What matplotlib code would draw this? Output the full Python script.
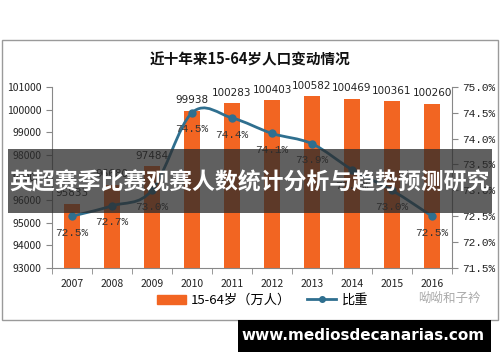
import matplotlib
matplotlib.use("Agg")
import matplotlib.pyplot as plt
from matplotlib.patches import Rectangle, PathPatch
from matplotlib.path import Path
from matplotlib.lines import Line2D
import numpy as np

plt.rcParams["font.family"] = ["Noto Sans CJK SC", "DejaVu Sans"]

years = ["2007", "2008", "2009", "2010", "2011", "2012", "2013", "2014", "2015", "2016"]
population = [95833, 96680, 97484, 99938, 100283, 100403, 100582, 100469, 100361, 100260]
share = [72.5, 72.7, 73.0, 74.5, 74.4, 74.1, 73.9, 73.4, 73.0, 72.5]

BAR = "#f26522"
LINE = "#2f6f8f"

fig = plt.figure(figsize=(5, 3.62), dpi=100)
fig.patch.set_facecolor("white")

# chart frame
fig.add_artist(Rectangle((0.004, 0.116), 0.992, 0.773, transform=fig.transFigure,
                         facecolor="white", edgecolor="#9a9a9a", lw=1, zorder=-1))

ax = fig.add_axes([0.104, 0.26, 0.8, 0.50])
ax.patch.set_alpha(0)
x = np.arange(len(years))
ax.bar(x, population, width=0.4, color=BAR, zorder=2)
for xi, v in zip(x, population):
    ax.annotate(str(v), (xi, v), xytext=(0, 4), textcoords="offset points",
                ha="center", va="bottom", fontsize=7.5, family="DejaVu Sans", color="#222")

ax.set_ylim(93000, 101000)
ax.set_xlim(-0.5, len(years) - 0.5)
ax.set_yticks(range(93000, 101001, 1000))
ax.tick_params(axis="y", labelsize=7.5, length=4, color="#888", labelcolor="#222")
ax.set_xticks(x)
ax.set_xticklabels(years)
ax.set_xticks(np.arange(-0.5, len(years)), minor=True)
ax.tick_params(axis="x", which="major", length=0, labelsize=7.5, pad=8, labelcolor="#222")
ax.tick_params(axis="x", which="minor", length=4, color="#888")
for s in ["top", "right"]:
    ax.spines[s].set_visible(False)
for s in ["left", "bottom"]:
    ax.spines[s].set_color("#888")

ax2 = ax.twinx()
ax2.set_ylim(71.5, 75.0)
ax2.set_yticks(np.arange(71.5, 75.01, 0.5))
ax2.set_yticklabels([f"{t:.1f}%" for t in np.arange(71.5, 75.01, 0.5)],
                    family="Liberation Mono")
ax2.tick_params(axis="y", labelsize=8, length=4, color="#888", labelcolor="#222")
for s in ["top", "left", "bottom"]:
    ax2.spines[s].set_visible(False)
ax2.spines["right"].set_color("#888")

# smoothed line (Catmull-Rom as cubic Bezier through the data points)
pts = np.column_stack([x, share]).astype(float)
verts = [tuple(pts[0])]
codes = [Path.MOVETO]
for i in range(len(pts) - 1):
    p0 = pts[max(i - 1, 0)]
    p1 = pts[i]
    p2 = pts[i + 1]
    p3 = pts[min(i + 2, len(pts) - 1)]
    c1 = p1 + (p2 - p0) / 6
    c2 = p2 - (p3 - p1) / 6
    verts += [tuple(c1), tuple(c2), tuple(p2)]
    codes += [Path.CURVE4] * 3
ax2.add_patch(PathPatch(Path(verts, codes), facecolor="none", edgecolor=LINE, lw=2, zorder=3))
ax2.plot(x, share, "o", color=LINE, ms=5, zorder=4)
for xi, v in zip(x, share):
    ax2.annotate(f"{v:.1f}%", (xi, v), xytext=(0, -12), textcoords="offset points",
                 ha="center", va="center", fontsize=8, family="Liberation Mono", color="#333")

fig.text(0.5, 0.835, "近十年来15-64岁人口变动情况", ha="center", va="center",
         fontsize=10.5, fontweight="bold", color="#111")

# legend
handles = [Rectangle((0, 0), 1, 1, color=BAR),
           Line2D([], [], color=LINE, lw=2, marker="o", ms=4)]
fig.legend(handles, ["15-64岁（万人）", "比重"], loc="center", bbox_to_anchor=(0.525, 0.17),
           ncol=2, frameon=False, fontsize=9.5, handlelength=2.2, handletextpad=0.4,
           columnspacing=1.2)

fig.text(0.836, 0.177, "呦呦和子衿", ha="left", va="center", fontsize=9, color="#aaa")

# banner overlay
fig.add_artist(Rectangle((0.016, 0.412), 0.968, 0.177, transform=fig.transFigure,
                         facecolor="#2b2b2b", alpha=0.75, edgecolor="none", zorder=10))
fig.text(0.5, 0.495, "英超赛季比赛观赛人数统计分析与趋势预测研究", ha="center", va="center",
         fontsize=16.5, fontweight="bold", color="white", zorder=11)

# bottom site box
fig.add_artist(Rectangle((0.476, 0.028), 0.506, 0.088, transform=fig.transFigure,
                         facecolor="black", edgecolor="none", zorder=10))
fig.text(0.726, 0.072, "www.mediosdecanarias.com", ha="center", va="center",
         fontsize=11, fontweight="bold", color="white", family="DejaVu Sans", zorder=11)

fig.savefig("out.png", dpi=100)
